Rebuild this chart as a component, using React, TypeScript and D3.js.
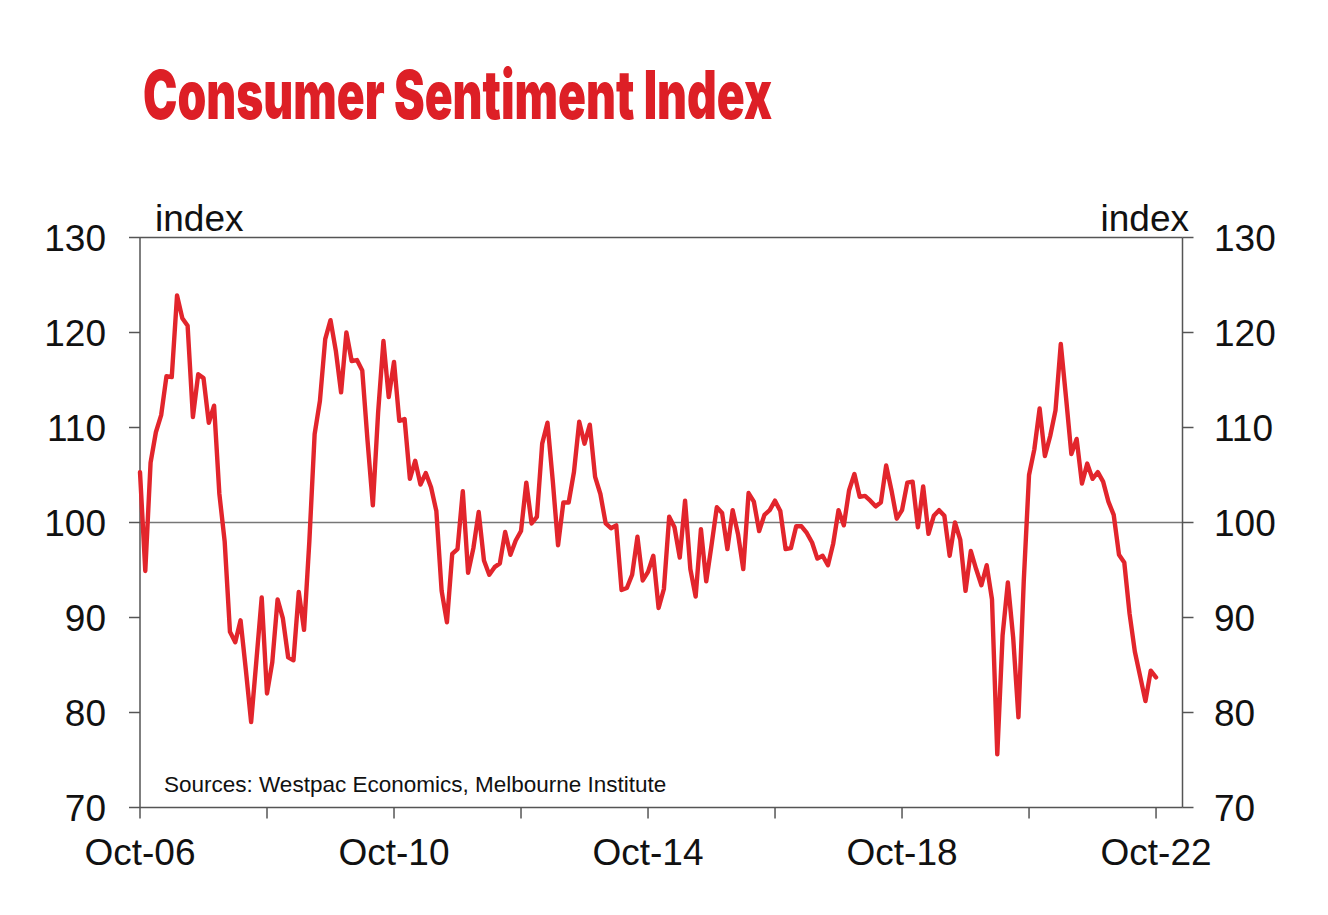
import React from "react";
import * as d3 from "d3";

// Monthly Consumer Sentiment Index, Oct-06 .. Oct-22 (index month 0 = Oct 2006)
const sentiment: number[] = [
  105.3, 94.9, 106.3, 109.5, 111.3, 115.4, 115.3, 123.9, 121.5, 120.7, 111.1, 115.6,
  115.2, 110.5, 112.3, 103.0, 98.0, 88.5, 87.4, 89.7, 84.5, 79.0, 85.5, 92.1,
  82.0, 85.3, 91.9, 89.9, 85.8, 85.5, 92.7, 88.7, 98.0, 109.3, 112.8, 119.3,
  121.3, 118.1, 113.7, 120.0, 117.0, 117.1, 116.0, 108.6, 101.8, 111.6, 119.1, 113.2,
  116.9, 110.7, 110.9, 104.6, 106.5, 104.0, 105.2, 103.7, 101.2, 92.8, 89.5, 96.7,
  97.2, 103.3, 94.7, 97.3, 101.1, 96.0, 94.5, 95.3, 95.7, 99.0, 96.6, 98.1,
  99.1, 104.2, 99.9, 100.6, 108.3, 110.5, 104.4, 97.6, 102.1, 102.1, 105.3, 110.6,
  108.3, 110.3, 104.8, 103.0, 99.9, 99.4, 99.7, 92.9, 93.1, 94.5, 98.5, 93.9,
  94.8, 96.5, 91.0, 93.0, 100.6, 99.5, 96.3, 102.3, 95.1, 92.2, 99.3, 93.8,
  97.6, 101.6, 101.0, 97.2, 101.3, 98.8, 95.1, 103.1, 102.2, 99.1, 100.8, 101.3,
  102.3, 101.2, 97.2, 97.3, 99.6, 99.6, 98.9, 97.9, 96.2, 96.5, 95.5, 97.8,
  101.3, 99.7, 103.4, 105.1, 102.7, 102.8, 102.3, 101.7, 102.1, 106.0, 103.4, 100.4,
  101.3, 104.2, 104.3, 99.5, 103.8, 98.8, 100.7, 101.3, 100.7, 96.5, 100.0, 98.2,
  92.8, 97.0, 95.1, 93.4, 95.5, 91.9, 75.6, 88.1, 93.7, 87.9, 79.5, 93.8,
  105.0, 107.7, 112.0, 107.0, 109.1, 111.8, 118.8, 113.1, 107.2, 108.8, 104.1, 106.2,
  104.6, 105.3, 104.3, 102.2, 100.8, 96.6, 95.8, 90.4, 86.4, 83.8, 81.2, 84.4,
  83.7,
];

const monthsInAxis = 197; // Oct-06 .. early 2023
const xTickMonths: number[] = [0, 24, 48, 72, 96, 120, 144, 168, 192];
const xTickLabels: string[] = ["Oct-06", "", "Oct-10", "", "Oct-14", "", "Oct-18", "", "Oct-22"];
const yTicks: number[] = [70, 80, 90, 100, 110, 120, 130];
const titleText = "Consumer Sentiment Index";
const axisUnit = "index";
const sourceText = "Sources: Westpac Economics, Melbourne Institute";

const W = 1328;
const H = 915;
const L = 140;
const R = 1182.5;
const T = 237.5;
const B = 807.5;

const RED = "#E2252C";
const AXIS = "#555555";
const TEXT = "#111111";
const FONT = "'Liberation Sans', Arial, sans-serif";

export default function App() {
  const x = d3.scaleLinear().domain([0, monthsInAxis]).range([L, R]);
  const y = d3.scaleLinear().domain([70, 130]).range([B, T]);
  const line = d3
    .line<number>()
    .x((_, i) => x(i))
    .y((d) => y(d))
    .curve(d3.curveLinear);

  return (
    <svg
      width={W}
      height={H}
      style={{ position: "absolute", left: 0, top: 0, background: "#fff" }}
    >
      <text
        x={143}
        y={119}
        fill="#DD1F26"
        fontFamily="Inter, Roboto, sans-serif"
        fontWeight={900}
        fontSize={67}
        textLength={629}
        lengthAdjust="spacingAndGlyphs"
      >
        {titleText}
      </text>

      {/* 100 reference line */}
      <line x1={L} x2={R} y1={y(100)} y2={y(100)} stroke="#777" strokeWidth={1.5} />

      {/* frame */}
      <line x1={L} x2={L} y1={T} y2={B} stroke={AXIS} strokeWidth={1.5} />
      <line x1={R} x2={R} y1={T} y2={B} stroke={AXIS} strokeWidth={1.5} />
      <line x1={L} x2={R} y1={T} y2={T} stroke={AXIS} strokeWidth={1.5} />
      <line x1={L} x2={R} y1={B} y2={B} stroke={AXIS} strokeWidth={1.5} />

      {/* y ticks */}
      {yTicks.map((t) => (
        <g key={t}>
          <line x1={L - 11} x2={L} y1={y(t)} y2={y(t)} stroke={AXIS} strokeWidth={1.5} />
          <line x1={R} x2={R + 11} y1={y(t)} y2={y(t)} stroke={AXIS} strokeWidth={1.5} />
          <text
            x={106}
            y={y(t) + 13}
            textAnchor="end"
            fontFamily={FONT}
            fontSize={37}
            fill={TEXT}
          >
            {t}
          </text>
          <text
            x={1214}
            y={y(t) + 13}
            textAnchor="start"
            fontFamily={FONT}
            fontSize={37}
            fill={TEXT}
          >
            {t}
          </text>
        </g>
      ))}

      {/* x ticks */}
      {xTickMonths.map((m, i) => (
        <g key={m}>
          <line x1={x(m)} x2={x(m)} y1={B} y2={B + 11} stroke={AXIS} strokeWidth={1.5} />
          {xTickLabels[i] && (
            <text
              x={x(m)}
              y={865}
              textAnchor="middle"
              fontFamily={FONT}
              fontSize={37}
              fill={TEXT}
            >
              {xTickLabels[i]}
            </text>
          )}
        </g>
      ))}

      <text x={155} y={231} fontFamily={FONT} fontSize={37} fill={TEXT}>
        {axisUnit}
      </text>
      <text x={1189} y={231} textAnchor="end" fontFamily={FONT} fontSize={37} fill={TEXT}>
        {axisUnit}
      </text>

      <path
        d={line(sentiment) || ""}
        fill="none"
        stroke={RED}
        strokeWidth={4.4}
        strokeLinejoin="round"
        strokeLinecap="round"
      />

      <text x={164} y={792} fontFamily={FONT} fontSize={22.5} fill={TEXT}>
        {sourceText}
      </text>
    </svg>
  );
}
